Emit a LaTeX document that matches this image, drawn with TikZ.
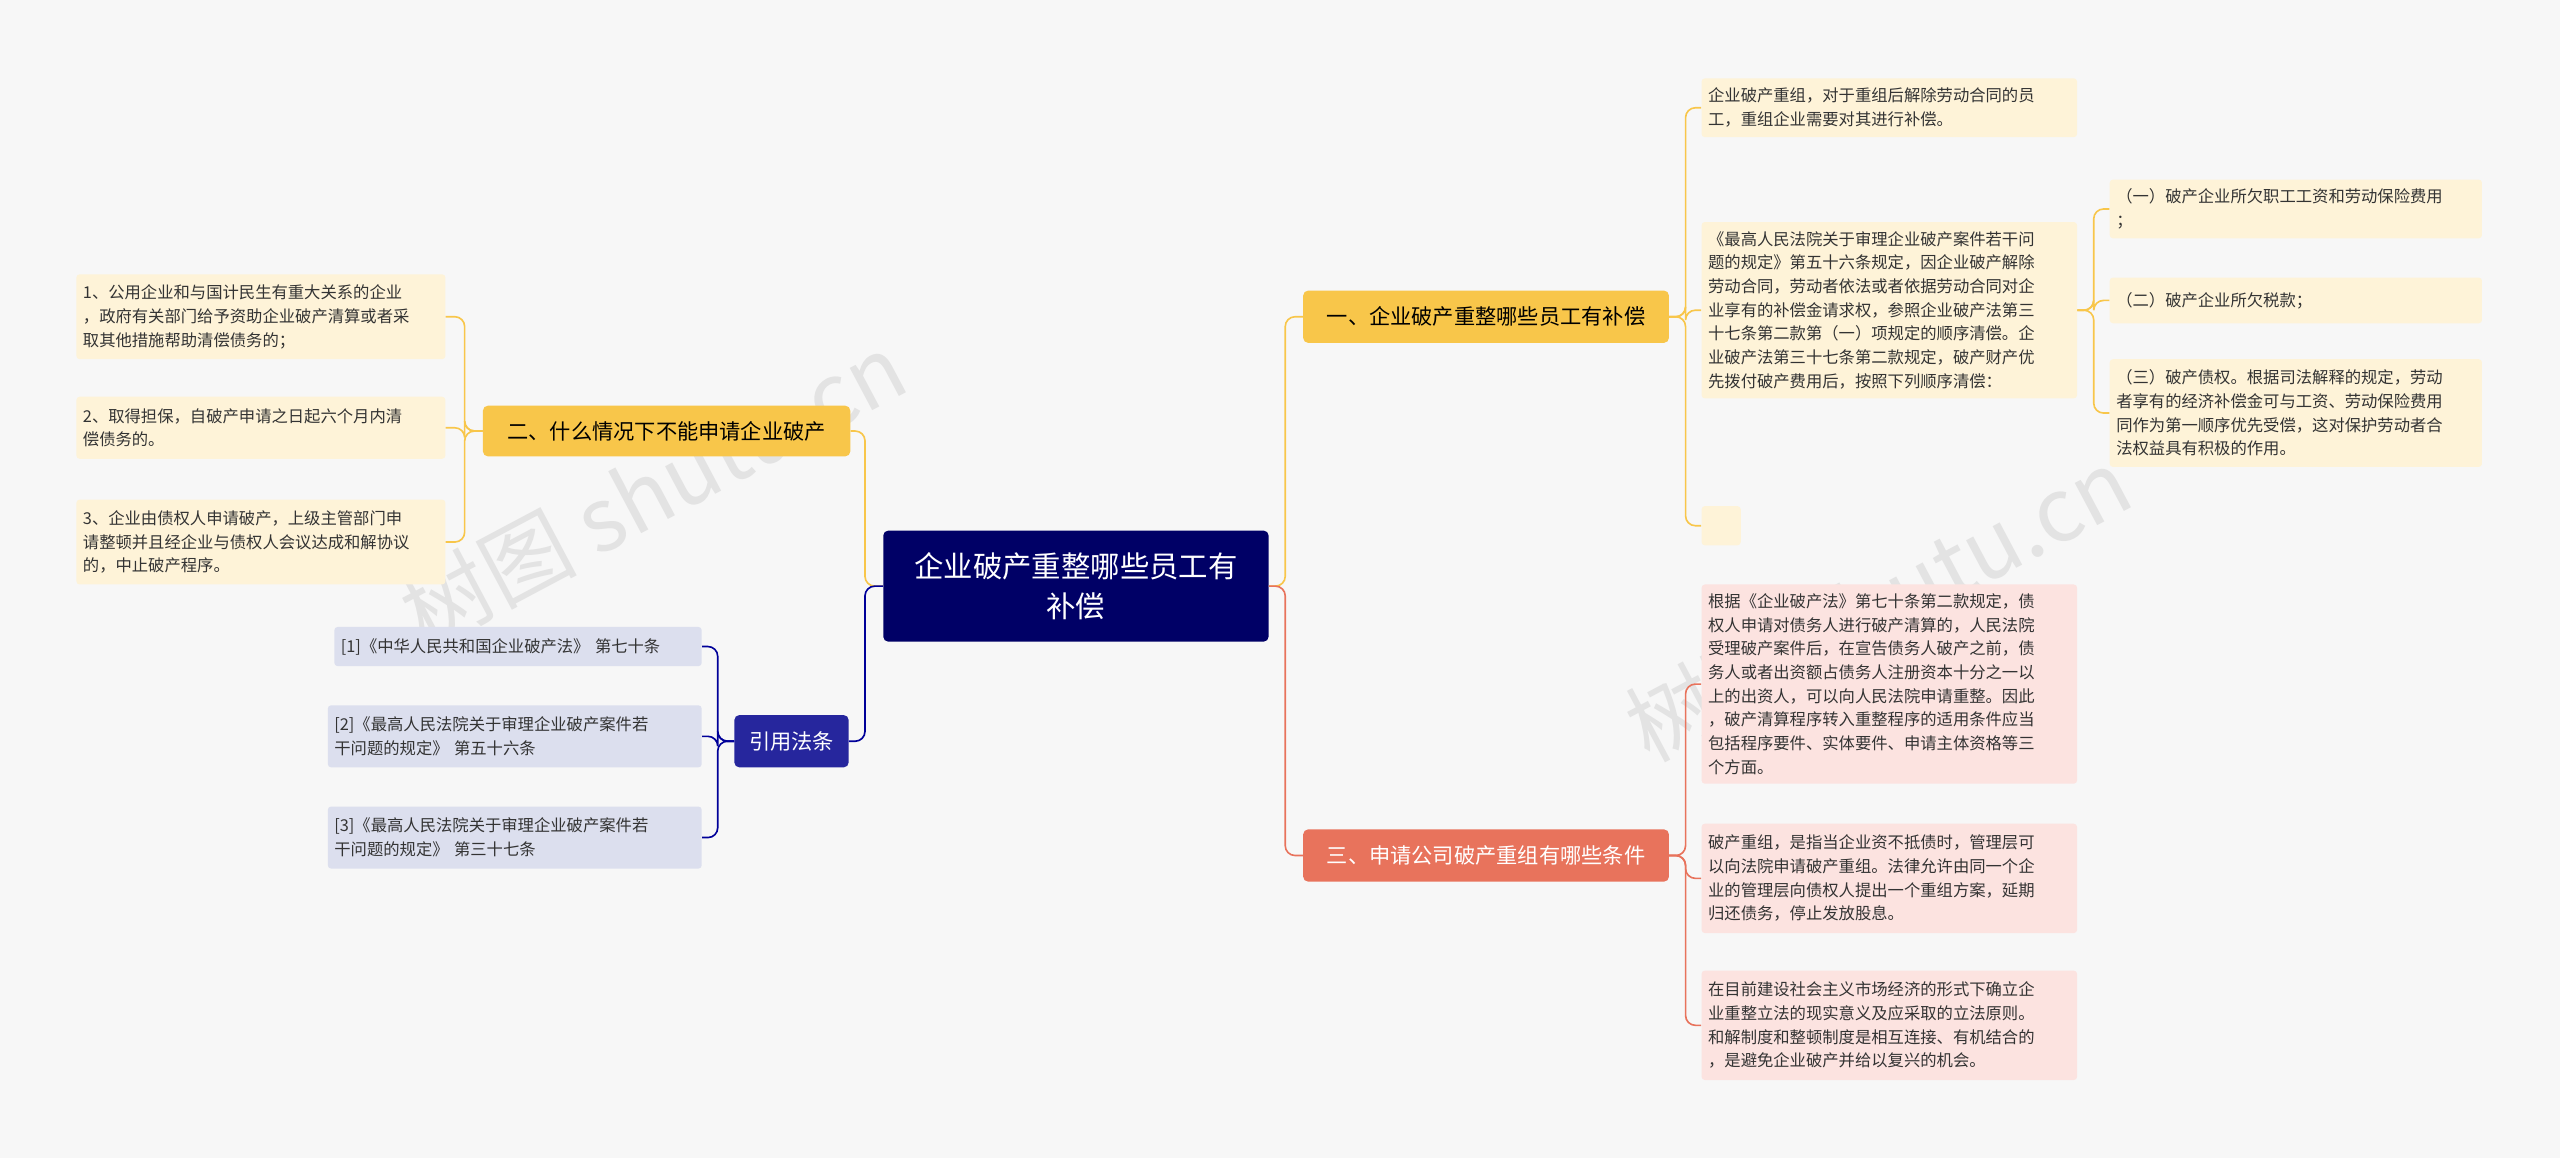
\documentclass[tikz,border=0pt]{standalone}
\usepackage{fontspec}
\setmainfont{Noto Sans CJK SC}
\definecolor{yb}{HTML}{F8C64A}
\definecolor{rb}{HTML}{E8735C}
\definecolor{ylf}{HTML}{FEF3D8}
\definecolor{pkf}{HTML}{FCE3E0}
\definecolor{blf}{HTML}{DCDFEE}
\begin{document}
\begin{tikzpicture}[x=1pt,y=-1pt,
 leaf/.style={rounded corners=2pt,inner sep=4pt,align=left,anchor=west,font=\fontsize{10}{14.5}\selectfont,text=black!80},
 yl/.style={leaf,fill=ylf},
 pk/.style={leaf,fill=pkf},
 bl/.style={leaf,fill=blf},
 br/.style={rounded corners=3pt,inner sep=4pt,anchor=west,font=\fontsize{13}{16}\selectfont},
 yc/.style={draw=yb,line width=1pt,rounded corners=6pt},
 rc/.style={draw=rb,line width=1pt,rounded corners=6pt},
 bc/.style={draw=blue!60!black,line width=1pt,rounded corners=6pt}]
\fill[gray!6] (0,0) rectangle (1568,709);
\useasboundingbox (0,0) rectangle (1568,709);
\foreach \p in {(400,300),(1150,370)}
 \node[rotate=28,text=gray!22,font=\fontsize{54}{54}\selectfont] at \p {树图 shutu.cn};
\node[fill=blue!40!black,rounded corners=3pt,text=white,align=center,minimum width=236,minimum height=68,font=\fontsize{18}{24}\selectfont] (root) at (659,359) {企业破产重整哪些员工有\\补偿};
\node[br,fill=yb,minimum width=224,minimum height=32] (b1) at (798,194) {一、企业破产重整哪些员工有补偿};
\node[br,fill=yb,minimum width=225,minimum height=31,anchor=east] (b2) at (521,264) {二、什么情况下不能申请企业破产};
\node[br,fill=rb,text=white,minimum width=224,minimum height=32] (b3) at (798,524) {三、申请公司破产重组有哪些条件};
\node[br,fill=blue!55!black!85,text=white,minimum width=70,minimum height=32,anchor=east] (b4) at (520,454) {引用法条};
\draw[yc] (root.east) -- ++(10,0) |- (b1.west);
\draw[rc] (root.east) -- ++(10,0) |- (b3.west);
\draw[yc] (root.west) -- ++(-11,0) |- (b2.east);
\draw[bc] (root.west) -- ++(-11,0) |- (b4.east);
% left leaves
\node[yl,anchor=east,text width=218,minimum height=52] (l1) at (273,194) {1、公用企业和与国计民生有重大关系的企业\\，政府有关部门给予资助企业破产清算或者采\\取其他措施帮助清偿债务的；};
\node[yl,anchor=east,text width=218,minimum height=38] (l2) at (273,262) {2、取得担保，自破产申请之日起六个月内清\\偿债务的。};
\node[yl,anchor=east,text width=218,minimum height=52] (l3) at (273,332) {3、企业由债权人申请破产，上级主管部门申\\请整顿并且经企业与债权人会议达成和解协议\\的，中止破产程序。};
\foreach \n in {l1,l2,l3} \draw[yc] (b2.west) -- ++(-11,0) |- (\n.east);
\node[bl,anchor=east,text width=217,minimum height=24] (c1) at (430,396) {[1]《中华人民共和国企业破产法》 第七十条};
\node[bl,anchor=east,text width=221,minimum height=38] (c2) at (430,451) {[2]《最高人民法院关于审理企业破产案件若\\干问题的规定》 第五十六条};
\node[bl,anchor=east,text width=221,minimum height=38] (c3) at (430,513) {[3]《最高人民法院关于审理企业破产案件若\\干问题的规定》 第三十七条};
\foreach \n in {c1,c2,c3} \draw[bc] (b4.west) -- ++(-10,0) |- (\n.east);
% right branch 1
\node[yl,text width=222,minimum height=36] (r1) at (1042,66) {企业破产重组，对于重组后解除劳动合同的员\\工，重组企业需要对其进行补偿。};
\node[yl,text width=222,minimum height=108] (r2) at (1042,190) {《最高人民法院关于审理企业破产案件若干问\\题的规定》第五十六条规定，因企业破产解除\\劳动合同，劳动者依法或者依据劳动合同对企\\业享有的补偿金请求权，参照企业破产法第三\\十七条第二款第（一）项规定的顺序清偿。企\\业破产法第三十七条第二款规定，破产财产优\\先拨付破产费用后，按照下列顺序清偿：};
\node[yl,minimum width=24,minimum height=24] (r3) at (1042,322) {};
\foreach \n in {r1,r2,r3} \draw[yc] (b1.east) -- ++(10,0) |- (\n.west);
\node[yl,text width=220,minimum height=36] (s1) at (1292,128) {（一）破产企业所欠职工工资和劳动保险费用\\；};
\node[yl,text width=220,minimum height=28] (s2) at (1292,184) {（二）破产企业所欠税款；};
\node[yl,text width=220,minimum height=66] (s3) at (1292,253) {（三）破产债权。根据司法解释的规定，劳动\\者享有的经济补偿金可与工资、劳动保险费用\\同作为第一顺序优先受偿，这对保护劳动者合\\法权益具有积极的作用。};
\foreach \n in {s1,s2,s3} \draw[yc] (r2.east) -- ++(10,0) |- (\n.west);
% right branch 3
\node[pk,text width=222,minimum height=122] (p1) at (1042,419) {根据《企业破产法》第七十条第二款规定，债\\权人申请对债务人进行破产清算的，人民法院\\受理破产案件后，在宣告债务人破产之前，债\\务人或者出资额占债务人注册资本十分之一以\\上的出资人，可以向人民法院申请重整。因此\\，破产清算程序转入重整程序的适用条件应当\\包括程序要件、实体要件、申请主体资格等三\\个方面。};
\node[pk,text width=222,minimum height=67] (p2) at (1042,538) {破产重组，是指当企业资不抵债时，管理层可\\以向法院申请破产重组。法律允许由同一个企\\业的管理层向债权人提出一个重组方案，延期\\归还债务，停止发放股息。};
\node[pk,text width=222,minimum height=67] (p3) at (1042,628) {在目前建设社会主义市场经济的形式下确立企\\业重整立法的现实意义及应采取的立法原则。\\和解制度和整顿制度是相互连接、有机结合的\\，是避免企业破产并给以复兴的机会。};
\foreach \n in {p1,p2,p3} \draw[rc] (b3.east) -- ++(10,0) |- (\n.west);
\end{tikzpicture}
\end{document}
